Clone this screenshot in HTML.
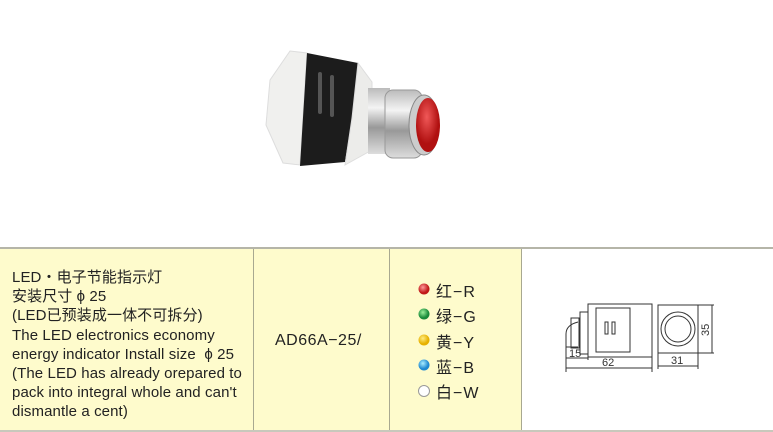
<!DOCTYPE html>
<html><head><meta charset="utf-8"><style>
body{margin:0;width:773px;height:432px;background:#fff;overflow:hidden;position:relative;font-family:"Liberation Sans","Noto Sans CJK SC",sans-serif;color:#222}
.c{position:absolute;top:249px;height:181px;background:#fefbcc}
.t{position:absolute;font-size:15px;line-height:19.2px;white-space:nowrap;letter-spacing:0.1px}
</style></head><body>
<div style="position:absolute;left:0;top:247px;width:773px;height:2px;background:#b5b5a8"></div>
<div style="position:absolute;left:0;top:430px;width:773px;height:2px;background:#c8c8bc"></div>
<div class="c" style="left:0;width:253px"></div>
<div class="c" style="left:254px;width:135px"></div>
<div class="c" style="left:390px;width:132px"></div>
<div style="position:absolute;left:253px;top:249px;width:1px;height:181px;background:#a8a890"></div>
<div style="position:absolute;left:389px;top:249px;width:1px;height:181px;background:#a8a890"></div>
<div style="position:absolute;left:521px;top:249px;width:1px;height:181px;background:#a8a890"></div>
<div class="t" style="left:12px;top:268px">LED・电子节能指示灯<br>安装尺寸 ϕ 25<br>(LED已预装成一体不可拆分)<br>The LED electronics economy<br>energy indicator Install size &nbsp;ϕ 25<br>(The LED has already orepared to<br>pack into integral whole and can't<br>dismantle a cent)</div>
<div class="t" style="left:275px;top:331px;font-size:16px;letter-spacing:0.5px">AD66A−25/</div>
<div class="t" style="left:436px;top:280px;font-size:16px;line-height:25.3px;letter-spacing:1px">红−R<br>绿−G<br>黄−Y<br>蓝−B<br>白−W</div>
<svg style="position:absolute;left:0;top:0" width="773" height="432">
<defs>
<radialGradient id="r" cx="0.4" cy="0.35"><stop offset="0" stop-color="#f99"/><stop offset="1" stop-color="#c01818"/></radialGradient>
<radialGradient id="g" cx="0.4" cy="0.35"><stop offset="0" stop-color="#9e9"/><stop offset="1" stop-color="#1a8a3a"/></radialGradient>
<radialGradient id="y" cx="0.4" cy="0.35"><stop offset="0" stop-color="#ffec80"/><stop offset="1" stop-color="#e6b000"/></radialGradient>
<radialGradient id="b" cx="0.4" cy="0.35"><stop offset="0" stop-color="#aef"/><stop offset="1" stop-color="#1e88d0"/></radialGradient>
<linearGradient id="m" x1="0" y1="0" x2="0" y2="1"><stop offset="0" stop-color="#bbb"/><stop offset=".3" stop-color="#f4f4f4"/><stop offset=".6" stop-color="#999"/><stop offset="1" stop-color="#ddd"/></linearGradient>
<radialGradient id="rd" cx="0.45" cy="0.35"><stop offset="0" stop-color="#f05858"/><stop offset="1" stop-color="#b01010"/></radialGradient>
</defs>
<circle cx="424" cy="289" r="5.5" fill="url(#r)"/>
<circle cx="424" cy="314" r="5.5" fill="url(#g)"/>
<circle cx="424" cy="340" r="5.5" fill="url(#y)"/>
<circle cx="424" cy="365" r="5.5" fill="url(#b)"/>
<circle cx="424" cy="391" r="5.5" fill="#fff" stroke="#999" stroke-width="1"/>
<polygon points="290,51 307,53 300,165 283,163 266,125 270,80" fill="#f0f0ee" stroke="#ddd"/>
<polygon points="307,53 358,63 352,118 345,162 300,166" fill="#1c1c1c"/>
<rect x="318" y="72" width="4" height="42" rx="2" fill="#555"/>
<rect x="330" y="75" width="4" height="42" rx="2" fill="#555"/>
<polygon points="358,63 372,82 372,150 345,165 352,118" fill="#ececea" stroke="#ddd"/>
<rect x="368" y="88" width="22" height="66" fill="url(#m)"/>
<rect x="385" y="90" width="37" height="68" rx="8" fill="url(#m)" stroke="#999"/>
<ellipse cx="424" cy="125" rx="15" ry="30" fill="#ccc" stroke="#888"/>
<ellipse cx="428" cy="125" rx="12" ry="27" fill="url(#rd)"/>
<g fill="none" stroke="#333" stroke-width="1">
<path d="M578,322 q-12,3 -12,12 v13 h12"/>
<rect x="571" y="318" width="8" height="30"/>
<rect x="580" y="312" width="8" height="42"/>
<rect x="588" y="304" width="64" height="53"/>
<rect x="596" y="308" width="34" height="44"/>
<rect x="605" y="322" width="3" height="12"/><rect x="612" y="322" width="3" height="12"/>
<path d="M566,345 v27 M652,357 v15 M566,368 h86 M566,358 h22 M588,350 v10"/>
<rect x="658" y="305" width="40" height="48"/>
<circle cx="678" cy="329" r="17"/><circle cx="678" cy="329" r="13"/>
<path d="M698,305 h16 M698,353 h16 M712,305 v48 M658,353 v16 M698,353 v16 M658,366 h40"/>
</g>
<g font-size="11" fill="#333" font-family="Liberation Sans,sans-serif">
<text x="569" y="357">15</text><text x="602" y="366">62</text><text x="671" y="364">31</text>
<text transform="translate(709,336) rotate(-90)">35</text>
</g>
</svg>
</body></html>
